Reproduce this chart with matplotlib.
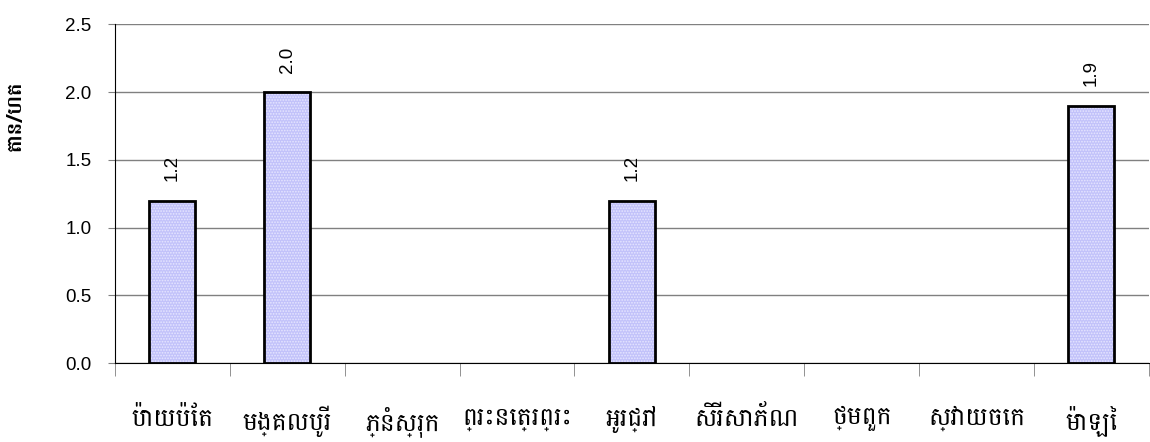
import matplotlib
matplotlib.use("Agg")
import matplotlib.pyplot as plt
from matplotlib import font_manager
from matplotlib.ft2font import FT2Font

categories = ["ប៉ោយប៉ែត", "មង្គលបូរី", "ភ្នំស្រុក", "ព្រះនេត្រព្រះ", "អូរជ្រៅ",
              "សិរីសោភ័ណ", "ថ្មពួក", "ស្វាយចេក", "ម៉ាឡៃ"]
values = [1.2, 2.0, 0, 0, 1.2, 0, 0, 0, 1.9]
ylabel = "តោន/ហត"
yticks = [0.0, 0.5, 1.0, 1.5, 2.0, 2.5]

khmer_fonts = set()
for f in font_manager.fontManager.ttflist:
    try:
        if FT2Font(f.fname).get_char_index(ord("ក")) != 0:
            khmer_fonts.add(f.name)
    except Exception:
        pass
kfam = [n for n in ["Battambang", "Khmer", "Hanuman", "Noto Serif Khmer", "Noto Sans Khmer"]
        if n in khmer_fonts] + ["DejaVu Sans"]

plt.rcParams["font.family"] = ["Liberation Sans", "DejaVu Sans"]
plt.rcParams["hatch.linewidth"] = 0.8

fig = plt.figure(figsize=(11.5, 4.42), dpi=100)
ax = fig.add_axes([0.1, 0.1787, 0.899, 0.766])

x = list(range(len(categories)))
lws = [2 if v > 0 else 0 for v in values]
ax.bar(x, values, width=0.4, color="#c2c2fa", linewidth=0, zorder=3)
ax.bar(x, values, width=0.4, fill=False, hatch="......", edgecolor="#e6e6ff",
       linewidth=0, zorder=3.5)
ax.bar(x, values, width=0.4, fill=False, edgecolor="black", linewidth=lws, zorder=4)
for xi, v in zip(x, values):
    if v > 0:
        ax.annotate(f"{v:.1f}", (xi, v), xytext=(0, 14), textcoords="offset points",
                    rotation=90, ha="center", va="bottom", fontsize=13.5)

ax.set_xlim(-0.5, len(categories) - 0.5)
ax.set_ylim(0, 2.5)
ax.set_yticks(yticks)
ax.set_yticklabels([f"{t:.1f}" for t in yticks], fontsize=13.5)
ax.yaxis.grid(True, color="#808080", linewidth=1, zorder=0)
ax.tick_params(axis="y", length=5, color="#808080", pad=12)

ax.set_xticks(x)
ax.set_xticklabels(categories, fontsize=18, family=kfam)
ax.set_xticks([i + 0.5 for i in range(-1, len(categories))], minor=True)
ax.tick_params(axis="x", which="major", length=0, pad=31)
ax.tick_params(axis="x", which="minor", length=9, color="#808080")

for s in ["top", "right"]:
    ax.spines[s].set_visible(False)

ax.set_ylabel(ylabel, family=kfam, fontsize=15, fontweight="bold")
ax.yaxis.set_label_coords(-0.087, 0.73)

fig.savefig("out.png", dpi=100)
